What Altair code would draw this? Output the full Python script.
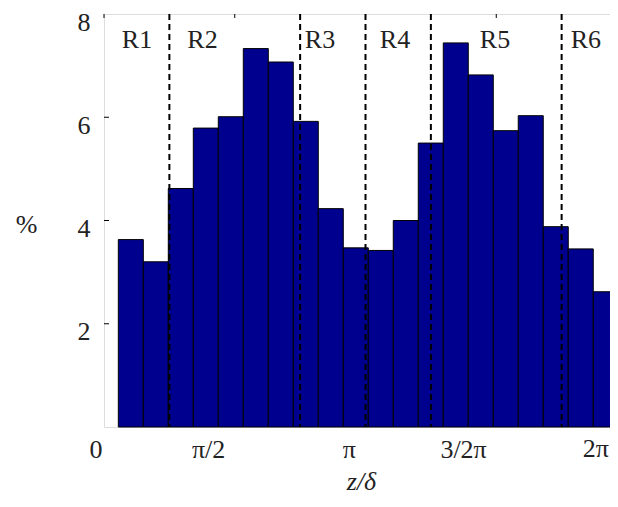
import math
import altair as alt
import pandas as pd

PI = math.pi

# Histogram values (%), one per bin, left to right
bar_values = [3.63, 3.20, 4.62, 5.79, 6.01, 7.33, 7.07, 5.92, 4.23, 3.47,
              3.42, 4.00, 5.50, 7.44, 6.82, 5.74, 6.03, 3.88, 3.45, 2.62]
BIN_START = 0.172      # left edge of first bin (z/delta, radians)
BIN_WIDTH = 0.3003     # bin width
X_MAX = 6.175          # right end of the x range

# Region boundaries (dashed lines) and region labels
region_bounds = [PI / 4, 3 * PI / 4, PI, 5 * PI / 4, 7 * PI / 4]
region_labels = ["R1", "R2", "R3", "R4", "R5", "R6"]
region_label_x = [0.396, 1.183, 2.595, 3.496, 4.697, 5.79]
REGION_LABEL_Y = 7.5

# Axis ticks
x_tick_values = [0, PI / 2, PI, 3 * PI / 2, 2 * PI]
x_tick_labels = ["0", "π/2", "π", "3/2π", "2π"]
y_tick_values = [2, 4, 6, 8]

FONT = "Liberation Serif"
FS = 26
TXT = "#222222"

bars = pd.DataFrame({
    "x0": [BIN_START + i * BIN_WIDTH for i in range(len(bar_values))],
    "x1": [BIN_START + (i + 1) * BIN_WIDTH for i in range(len(bar_values))],
    "pct": bar_values,
})
bounds = pd.DataFrame({"x0": region_bounds})
labels = pd.DataFrame({"x0": region_label_x, "label": region_labels,
                       "pct": [REGION_LABEL_Y] * len(region_labels)})
inside = [v <= X_MAX for v in x_tick_values]
top_ticks = pd.DataFrame({"x0": [v for v, ok in zip(x_tick_values, inside) if ok]})
outside_labels = pd.DataFrame({
    "x0": [v for v, ok in zip(x_tick_values, inside) if not ok],
    "label": [l for l, ok in zip(x_tick_labels, inside) if not ok],
})
left_ticks = pd.DataFrame({"pct": y_tick_values[:-1]})

xscale = alt.Scale(domain=[0, X_MAX], nice=False, zero=False)
yscale = alt.Scale(domain=[0, 8], nice=False, zero=True)

label_expr = " : ".join(
    f"abs(datum.value - {v}) < 1e-6 ? '{l}'" for v, l in zip(x_tick_values, x_tick_labels)
) + " : ''"

x_axis = alt.Axis(
    values=[v for v, ok in zip(x_tick_values, inside) if ok],
    labelExpr=label_expr, tickSize=0, domain=False, grid=False,
    labelFont=FONT, labelFontSize=FS, labelColor=TXT, labelAlign="right",
    labelBaseline="top", labelPadding=9,
    labelOffset={"condition": {"test": "datum.value < 0.1", "value": -2}, "value": -10},
    labelFlush=False, labelOverlap=False,
    title="z/δ", titleFont=FONT, titleFontSize=FS, titleFontStyle="italic",
    titleFontWeight="normal", titleColor=TXT, titleY=54, titleBaseline="middle",
)
y_axis = alt.Axis(
    values=y_tick_values, tickSize=0, domain=False, grid=False,
    labelFont=FONT, labelFontSize=FS, labelColor=TXT, labelPadding=14,
    labelOffset=8, labelFlush=False, labelOverlap=False,
    title="%", titleFont=FONT, titleFontSize=FS, titleFontWeight="normal",
    titleColor=TXT, titleAngle=0, titleX=-78, titleY=210,
    titleAlign="center", titleBaseline="middle",
)

X = alt.X("x0:Q", scale=xscale, axis=x_axis)
Y = alt.Y("pct:Q", scale=yscale, axis=y_axis)

bar_layer = alt.Chart(bars).mark_rect(
    color="#00008F", stroke="black", strokeWidth=1
).encode(x=X, x2="x1:Q", y=Y, y2=alt.datum(0))

dash_layer = alt.Chart(bounds).mark_rule(
    color="black", strokeWidth=2, strokeDash=[6, 4]
).encode(x=X, y=alt.value(0), y2=alt.value(413))

top_tick_layer = alt.Chart(top_ticks).mark_rule(color="black", strokeWidth=1).encode(
    x=X, y=alt.value(0), y2=alt.value(4)
)

left_tick_layer = alt.Chart(left_ticks).mark_rule(color="black", strokeWidth=1).encode(
    y=Y, x=alt.value(0), x2=alt.value(5)
)

text_layer = alt.Chart(labels).mark_text(
    font=FONT, fontSize=FS, color=TXT, align="center", baseline="middle"
).encode(x=X, y=Y, text="label:N")

# tick label of the 2π tick, which lies just past the right edge of the plot
outside_label_layer = alt.Chart(outside_labels).mark_text(
    font=FONT, fontSize=FS, color=TXT, align="right", baseline="top", dx=-18, dy=9
).encode(x=X, y=alt.value(413), text="label:N")

chart = alt.layer(
    bar_layer, dash_layer, top_tick_layer, left_tick_layer, text_layer,
    outside_label_layer,
).properties(
    width=514, height=413,
    autosize=alt.AutoSizeParams(type="none"),
    padding={"left": 96, "top": 6, "right": -8, "bottom": 72},
).configure_view(
    stroke="black", strokeWidth=1.2
).configure(background="white")

chart.save("out.html", embed_options={"renderer": "svg", "actions": False})
